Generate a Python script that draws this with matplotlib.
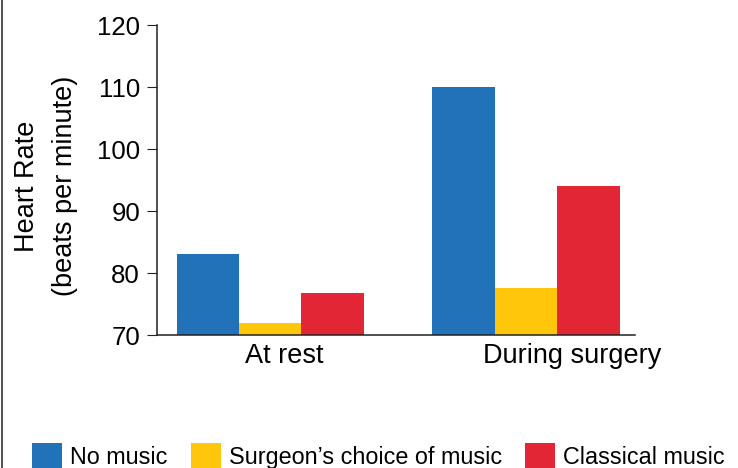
# Heart rate of surgeons with / without music -- grouped bar chart
import matplotlib
matplotlib.use('Agg')
import numpy as np
import matplotlib.pyplot as plt
from matplotlib.lines import Line2D

# Data
groups = ['At rest', 'During surgery']
series = ['No music', 'Surgeon\u2019s choice of music', 'Classical music']
no_music = [83.0, 110.0]
surgeon_choice = [72.0, 77.6]
classical = [76.7, 94.0]
yticks = [70, 80, 90, 100, 110, 120]

colors = ['#2172b9', '#ffc60b', '#e22636']

plt.rcParams['font.family'] = ['Liberation Sans', 'DejaVu Sans']

fig = plt.figure(figsize=(7.38, 4.68), dpi=100)
# axes box in pixels: x 157..635, y 25..335
ax = fig.add_axes([157/738, 1-335/468, (635-157)/738, (335-25)/468])

x = np.arange(len(groups))
w = 0.244
for k, vals in enumerate([no_music, surgeon_choice, classical]):
    ax.bar(x + (k-1)*w, np.array(vals) - 70, width=w, bottom=70,
           color=colors[k], label=series[k], linewidth=0)

ax.set_xlim(-0.443, 1.426)
ax.set_ylim(70, 120)
ax.set_yticks(yticks)
ax.set_yticklabels([str(t) for t in yticks], fontsize=18.5)

# x labels sit a bit right of the group centres in the original
ax.set_xticks(x + np.array([0.054, 0.18]))
ax.set_xticklabels(groups, fontsize=19.5)
ax.tick_params(axis='x', length=0, pad=6)
ax.tick_params(axis='y', length=7.2, width=0.8, pad=5, color='#222222')

for s in ['top', 'right']:
    ax.spines[s].set_visible(False)
for s in ['left', 'bottom']:
    ax.spines[s].set_linewidth(1.1)
    ax.spines[s].set_color('#222222')

fig.text(46/738, 1-186/468, 'Heart Rate\n(beats per minute)', rotation=90,
         ha='center', va='center', multialignment='center', fontsize=19.5,
         linespacing=1.65)

# legend along the bottom
fig.legend(loc='center left', bbox_to_anchor=(32/738, 1-456/468), ncol=3,
           frameon=False, fontsize=16.8, borderpad=0, borderaxespad=0,
           handlelength=1.29, handleheight=1.29, handletextpad=0.34,
           columnspacing=1.0)

# thin border down the left side of the figure
fig.add_artist(Line2D([2/738, 2/738], [0, 1], color='#333333', linewidth=1.2))

plt.savefig('out.png', dpi=100)
